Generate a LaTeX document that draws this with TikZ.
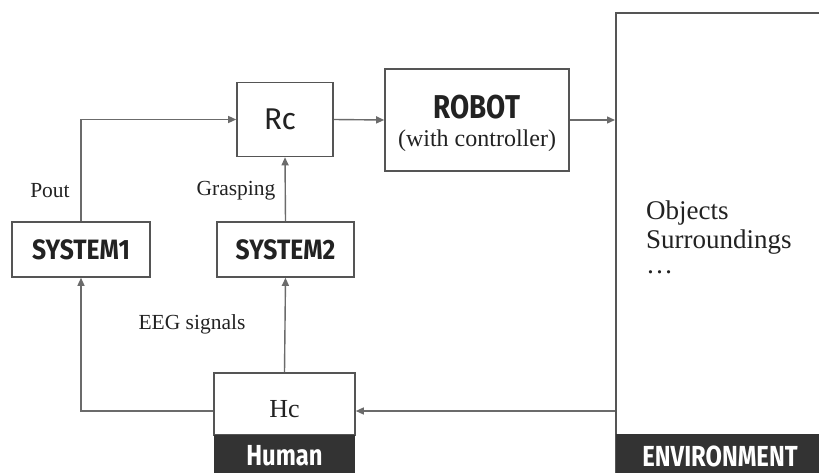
\documentclass[tikz,border=0pt]{standalone}
\usepackage{fontspec}
\setmainfont{Liberation Serif}
\newfontfamily\hdfont{Fira Sans Bold}
\newfontfamily\rcfont{Fira Sans}
\usetikzlibrary{arrows.meta}
\definecolor{linegray}{HTML}{6B6B6B}
\definecolor{boxgray}{HTML}{555555}
\definecolor{darkstrip}{HTML}{333333}
\definecolor{txt}{HTML}{222222}
\tikzset{
  blk/.style={draw=boxgray, line width=1.6pt, fill=white, inner sep=0pt, text=txt},
  conn/.style={draw=linegray, line width=1.4pt, -{Triangle[length=8pt,width=7pt]}},
  lbl/.style={text=txt, font=\fontsize{21.5}{24}\selectfont, inner sep=0pt},
  envtxt/.style={text=txt, font=\fontsize{27}{30}\selectfont, inner sep=0pt, anchor=base west},
  hd/.style={text=txt, inner sep=0pt}
}
\newcommand{\cond}[3]{\scalebox{#3}[1]{\hdfont\fontsize{#1}{#1}\selectfont #2}}
\begin{document}
\begin{tikzpicture}[x=1pt,y=-1pt]
\useasboundingbox (0,0) rectangle (819,473);
\clip (0,0) rectangle (819,473);
% environment
\node[blk, anchor=north west, minimum width=210pt, minimum height=470pt] (env) at (615,12) {};
\fill[darkstrip] (615.8,434) rectangle (825,480);
\node[text=white, inner sep=0pt] (envlbl) at (720,456) {\cond{29}{ENVIRONMENT}{0.82}};
% blocks
\node[blk, minimum width=96pt, minimum height=74pt] (rc) at (285,119.5) {};
\node[hd] (rct) at (280,119.5) {\rcfont\fontsize{30}{30}\selectfont Rc};
\node[blk, minimum width=184pt, minimum height=102pt] (robot) at (477,120) {};
\node[hd] (robott) at (477,107) {\cond{33}{ROBOT}{0.84}};
\node[lbl, font=\fontsize{24}{26}\selectfont] (robots) at (477,141) {(with controller)};
\node[blk, minimum width=138pt, minimum height=55pt] (s1) at (81,249.5) {\cond{28}{SYSTEM1}{0.88}};
\node[blk, minimum width=137pt, minimum height=55pt] (s2) at (285.5,249.5) {\cond{28}{SYSTEM2}{0.88}};
\node[blk, minimum width=141pt, minimum height=62pt] (hc) at (284.5,404) {};
\fill[darkstrip] (214,435) rectangle (355,480);
\node[hd, font=\fontsize{26}{28}\selectfont] (hct) at (284.5,409) {Hc};
\node[text=white, inner sep=0pt] (human) at (284.5,456) {\cond{29}{Human}{0.82}};
% connectors
\draw[conn] (s1.north) |- (rc.west);
\draw[conn] (s2.north) -- (rc.south);
\draw[conn] (rc.east) -- (robot.west);
\draw[conn] (robot.east) -- (robot.east -| env.west);
\coordinate (hcl) at ([yshift=-7pt]hc.west);
\coordinate (hcr) at ([yshift=-7pt]hc.east);
\draw[conn] (hcl) -| (s1.south);
\draw[conn] (hc.north) -- (s2.south);
\draw[conn] (hcr -| env.west) -- (hcr);
% labels
\node[lbl] (pout) at (50,191) {Pout};
\node[lbl] (grasp) at (236,191) {Grasping};
\node[lbl] (eeg) at (192,324) {EEG signals};
\node[envtxt] (obj1) at (646,220) {Objects};
\node[envtxt] (obj2) at (646,248) {Surroundings};
\node[envtxt, text height=4pt, text depth=0pt] (obj3) at (646,273) {\dots};
\end{tikzpicture}
\end{document}
